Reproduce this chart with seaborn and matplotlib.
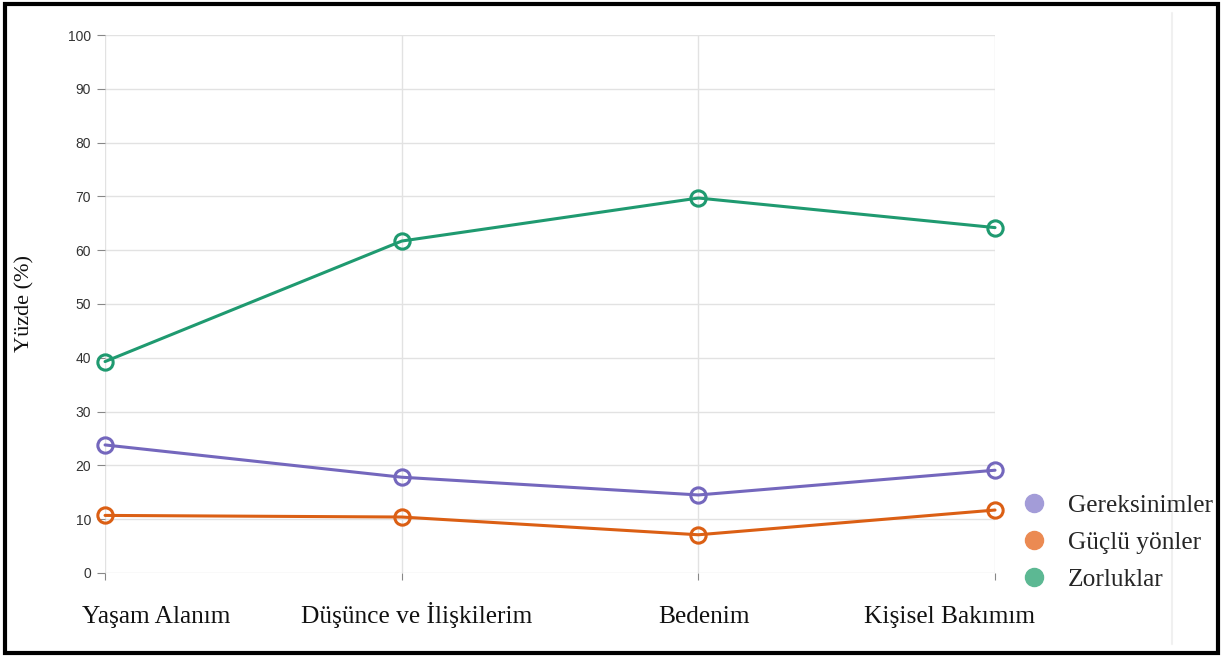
import matplotlib
matplotlib.use("Agg")
import matplotlib.pyplot as plt
import matplotlib.transforms as mtransforms
from matplotlib.lines import Line2D
from matplotlib.patches import Rectangle
import seaborn as sns
import pandas as pd

categories = ["Yaşam Alanım", "Düşünce ve İlişkilerim", "Bedenim", "Kişisel Bakımım"]
series_names = ["Gereksinimler", "Güçlü yönler", "Zorluklar"]
gereksinimler = [23.8, 17.8, 14.5, 19.1]
guclu_yonler = [10.7, 10.4, 7.1, 11.7]
zorluklar = [39.3, 61.7, 69.7, 64.2]
y_ticks = list(range(0, 101, 10))

line_colors = ["#7467bd", "#db5f14", "#1f9a70"]
legend_colors = ["#a39cd8", "#eb8a52", "#5cb893"]
# the category labels in the original sit a little off their ticks (pixels)
label_shift_px = [51, 15, 6, -46]

rows = []
for name, vals in zip(series_names, [gereksinimler, guclu_yonler, zorluklar]):
    for i, (cat, v) in enumerate(zip(categories, vals)):
        rows.append({"pos": i, "kategori": cat, "seri": name, "deger": v})
df = pd.DataFrame(rows)

sns.set_theme(style="white")
fig = plt.figure(figsize=(12.23, 6.57), dpi=100)
ax = fig.add_axes([0.0859, 0.1279, 0.7277, 0.8188])

sns.lineplot(data=df, x="pos", y="deger", hue="seri", hue_order=series_names,
             palette=line_colors, marker="o", markersize=11, markerfacecolor="none",
             markeredgewidth=2.2, linewidth=2.2, ax=ax, legend=False)
for ln, c in zip(ax.lines, line_colors):
    ln.set_markeredgecolor(c)
    ln.set_clip_on(False)
    ln.set_zorder(5)

ax.set_xlim(0, len(categories) - 1)
ax.set_ylim(0, 100)
ax.set_yticks(y_ticks)
ax.set_yticklabels([str(t) for t in y_ticks], fontsize=10, color="#333333",
                   family="Liberation Sans")
ax.set_xticks(range(len(categories)))
ax.set_xticklabels(categories, fontsize=18.3, family="Liberation Serif", color="#111111",
                   va="baseline")
ax.tick_params(axis="y", length=6, width=0.8, color="#888888", pad=4, left=True)
ax.tick_params(axis="x", length=5, width=0.8, color="#888888", pad=31, bottom=True,
               direction="out")
for lbl, dx in zip(ax.get_xticklabels(), label_shift_px):
    lbl.set_transform(lbl.get_transform() +
                      mtransforms.ScaledTranslation(dx / 100, 0, fig.dpi_scale_trans))
ax.grid(True, color="#e2e2e2", linewidth=1)
for s in ax.spines.values():
    s.set_visible(False)
ax.set_xlabel("")
ax.set_ylabel("Yüzde (%)", fontsize=16, family="Liberation Serif", color="#111111",
              labelpad=24)

handles = [Line2D([], [], linestyle="none", marker="o", markersize=13,
                  markerfacecolor=c, markeredgecolor=c) for c in legend_colors]
fig.legend(handles, series_names, loc="upper left", bbox_to_anchor=(0.814, 0.282),
           frameon=False, prop={"family": "Liberation Serif", "size": 18.3},
           handletextpad=0.75, labelspacing=0.55, handlelength=1.2)

fig.add_artist(Line2D([0.958, 0.958], [0.02, 0.98], color="#f0f0f0", linewidth=1.5))
fig.patches.append(Rectangle((0.004, 0.006), 0.992, 0.988, transform=fig.transFigure,
                             fill=False, edgecolor="black", linewidth=3))

fig.savefig("out.png", dpi=100)
